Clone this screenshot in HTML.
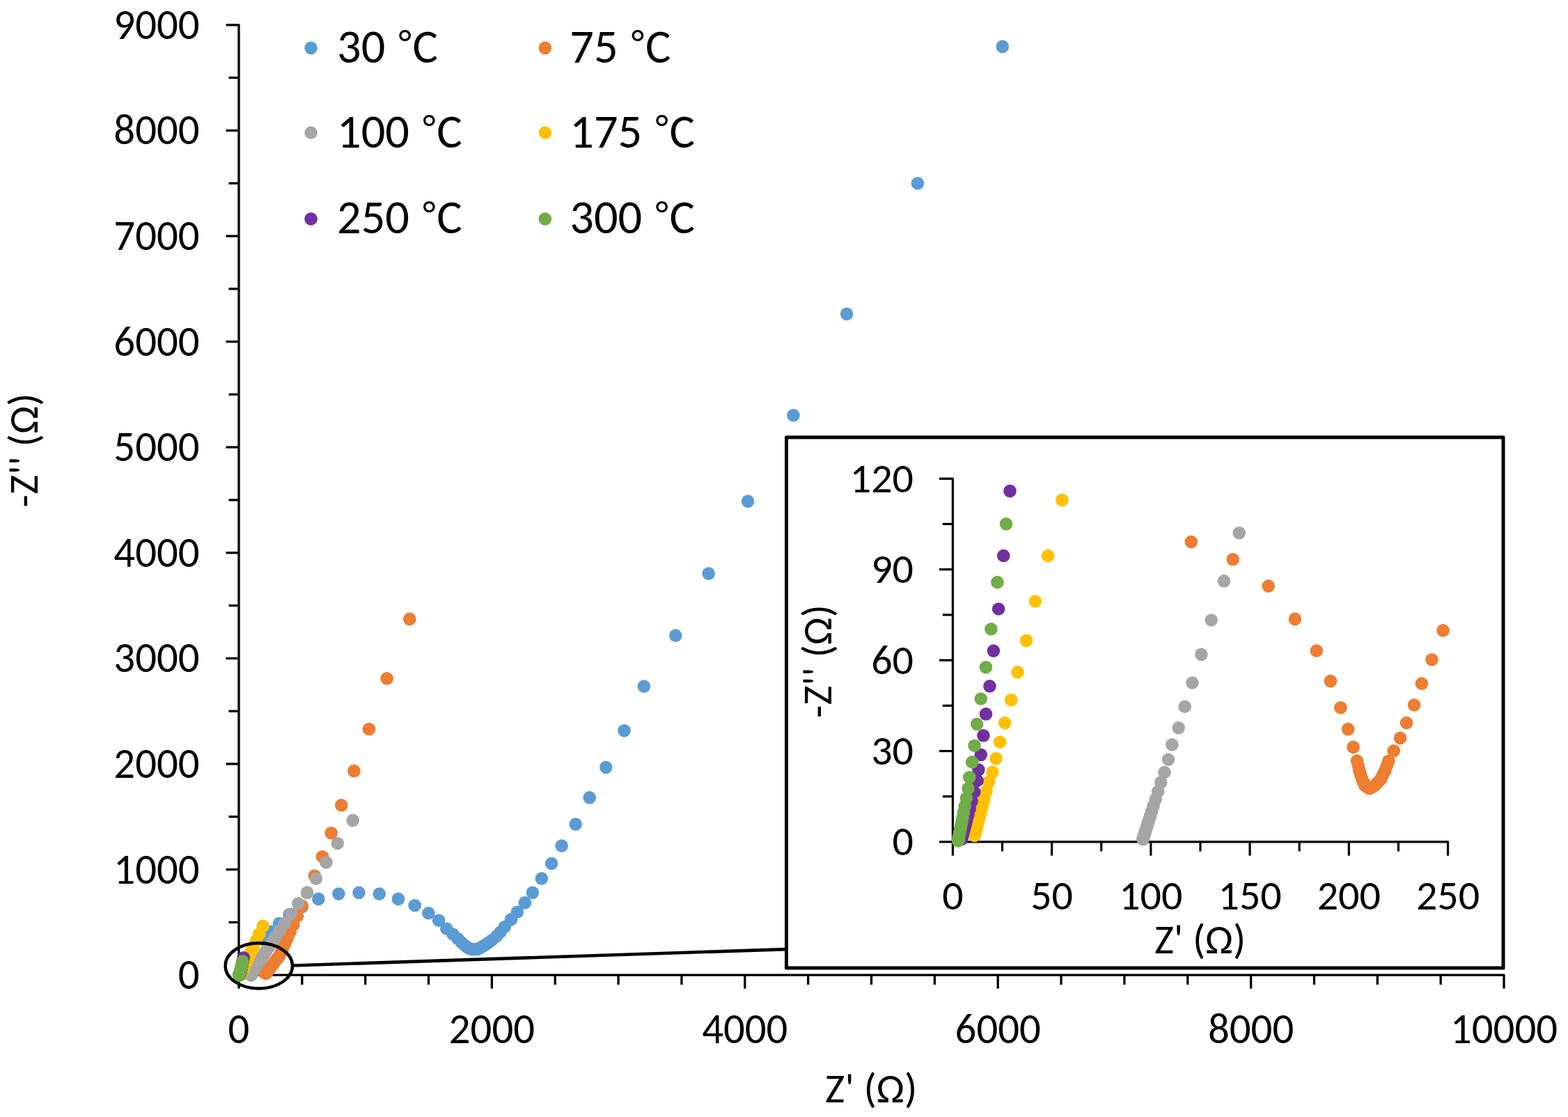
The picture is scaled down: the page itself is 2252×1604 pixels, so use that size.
<!DOCTYPE html>
<html><head><meta charset="utf-8"><title>Nyquist plot</title>
<style>html,body{margin:0;padding:0;background:#fff;overflow:hidden}svg{display:block}</style>
</head><body>
<svg width="2252" height="1604" viewBox="0 0 2252 1604">
<rect width="2252" height="1604" fill="#fff"></rect>
<g stroke="#000" stroke-width="3.3" stroke-linecap="butt" stroke-linejoin="round" fill="none"><path d="M324.6,35.8 H343.0 V1400.2 H2160 V1419.6"></path><line x1="328.5" y1="1324.40" x2="343.0" y2="1324.40"></line><line x1="324.6" y1="1248.60" x2="343.0" y2="1248.60"></line><line x1="328.5" y1="1172.80" x2="343.0" y2="1172.80"></line><line x1="324.6" y1="1097.00" x2="343.0" y2="1097.00"></line><line x1="328.5" y1="1021.20" x2="343.0" y2="1021.20"></line><line x1="324.6" y1="945.40" x2="343.0" y2="945.40"></line><line x1="328.5" y1="869.60" x2="343.0" y2="869.60"></line><line x1="324.6" y1="793.80" x2="343.0" y2="793.80"></line><line x1="328.5" y1="718.00" x2="343.0" y2="718.00"></line><line x1="324.6" y1="642.20" x2="343.0" y2="642.20"></line><line x1="328.5" y1="566.40" x2="343.0" y2="566.40"></line><line x1="324.6" y1="490.60" x2="343.0" y2="490.60"></line><line x1="328.5" y1="414.80" x2="343.0" y2="414.80"></line><line x1="324.6" y1="339.00" x2="343.0" y2="339.00"></line><line x1="328.5" y1="263.20" x2="343.0" y2="263.20"></line><line x1="324.6" y1="187.40" x2="343.0" y2="187.40"></line><line x1="328.5" y1="111.60" x2="343.0" y2="111.60"></line><line x1="343.00" y1="1400.2" x2="343.00" y2="1419.6"></line><line x1="433.85" y1="1400.2" x2="433.85" y2="1414.0"></line><line x1="524.70" y1="1400.2" x2="524.70" y2="1414.0"></line><line x1="615.55" y1="1400.2" x2="615.55" y2="1414.0"></line><line x1="706.40" y1="1400.2" x2="706.40" y2="1419.6"></line><line x1="797.25" y1="1400.2" x2="797.25" y2="1414.0"></line><line x1="888.10" y1="1400.2" x2="888.10" y2="1414.0"></line><line x1="978.95" y1="1400.2" x2="978.95" y2="1414.0"></line><line x1="1069.80" y1="1400.2" x2="1069.80" y2="1419.6"></line><line x1="1160.65" y1="1400.2" x2="1160.65" y2="1414.0"></line><line x1="1251.50" y1="1400.2" x2="1251.50" y2="1414.0"></line><line x1="1342.35" y1="1400.2" x2="1342.35" y2="1414.0"></line><line x1="1433.20" y1="1400.2" x2="1433.20" y2="1419.6"></line><line x1="1524.05" y1="1400.2" x2="1524.05" y2="1414.0"></line><line x1="1614.90" y1="1400.2" x2="1614.90" y2="1414.0"></line><line x1="1705.75" y1="1400.2" x2="1705.75" y2="1414.0"></line><line x1="1796.60" y1="1400.2" x2="1796.60" y2="1419.6"></line><line x1="1887.45" y1="1400.2" x2="1887.45" y2="1414.0"></line><line x1="1978.30" y1="1400.2" x2="1978.30" y2="1414.0"></line><line x1="2069.15" y1="1400.2" x2="2069.15" y2="1414.0"></line></g>
<g font-family="Carlito, 'Liberation Sans', Arial, sans-serif" font-size="60.8" fill="#000"><text x="286.6" y="1420.1" text-anchor="end" textLength="30.83" lengthAdjust="spacingAndGlyphs">0</text><text x="286.6" y="1268.5" text-anchor="end" textLength="123.27" lengthAdjust="spacingAndGlyphs">1000</text><text x="286.6" y="1116.9" text-anchor="end" textLength="123.27" lengthAdjust="spacingAndGlyphs">2000</text><text x="286.6" y="965.3" text-anchor="end" textLength="123.27" lengthAdjust="spacingAndGlyphs">3000</text><text x="286.6" y="813.7" text-anchor="end" textLength="123.27" lengthAdjust="spacingAndGlyphs">4000</text><text x="286.6" y="662.1" text-anchor="end" textLength="123.27" lengthAdjust="spacingAndGlyphs">5000</text><text x="286.6" y="510.5" text-anchor="end" textLength="123.27" lengthAdjust="spacingAndGlyphs">6000</text><text x="286.6" y="358.9" text-anchor="end" textLength="123.27" lengthAdjust="spacingAndGlyphs">7000</text><text x="286.6" y="207.3" text-anchor="end" textLength="123.27" lengthAdjust="spacingAndGlyphs">8000</text><text x="286.6" y="55.7" text-anchor="end" textLength="123.27" lengthAdjust="spacingAndGlyphs">9000</text><text x="343.0" y="1498.4" text-anchor="middle" textLength="30.83" lengthAdjust="spacingAndGlyphs">0</text><text x="706.4" y="1498.4" text-anchor="middle" textLength="123.27" lengthAdjust="spacingAndGlyphs">2000</text><text x="1069.8" y="1498.4" text-anchor="middle" textLength="123.27" lengthAdjust="spacingAndGlyphs">4000</text><text x="1433.2" y="1498.4" text-anchor="middle" textLength="123.27" lengthAdjust="spacingAndGlyphs">6000</text><text x="1796.6" y="1498.4" text-anchor="middle" textLength="123.27" lengthAdjust="spacingAndGlyphs">8000</text><text x="2160.0" y="1498.4" text-anchor="middle" textLength="154.08" lengthAdjust="spacingAndGlyphs">10000</text></g>
<text font-family="Carlito, 'Liberation Sans', Arial, sans-serif" font-size="60.5" x="1251.2" y="1583.4" text-anchor="middle" textLength="132.23" lengthAdjust="spacingAndGlyphs">Z' (Ω)</text>
<text font-family="Carlito, 'Liberation Sans', Arial, sans-serif" font-size="60.5" transform="translate(54.3,646.6) rotate(-90)" text-anchor="middle" textLength="164.11" lengthAdjust="spacingAndGlyphs">-Z'' (Ω)</text>
<g fill="#5B9BD5"><circle cx="378.5" cy="1349.5" r="9.3"></circle><circle cx="389.5" cy="1337.5" r="9.3"></circle><circle cx="401.0" cy="1326.1" r="9.3"></circle><circle cx="415.6" cy="1313.2" r="9.3"></circle><circle cx="433.8" cy="1302.2" r="9.3"></circle><circle cx="457.4" cy="1290.9" r="9.3"></circle><circle cx="486.4" cy="1283.6" r="9.3"></circle><circle cx="515.5" cy="1281.8" r="9.3"></circle><circle cx="544.8" cy="1283.6" r="9.3"></circle><circle cx="572.0" cy="1290.9" r="9.3"></circle><circle cx="595.7" cy="1300.2" r="9.3"></circle><circle cx="615.4" cy="1311.3" r="9.3"></circle><circle cx="630.2" cy="1321.7" r="9.3"></circle><circle cx="641.3" cy="1333.7" r="9.3"></circle><circle cx="650.5" cy="1341.5" r="9.3"></circle><circle cx="657.5" cy="1348.0" r="9.3"></circle><circle cx="663.0" cy="1353.5" r="9.3"></circle><circle cx="667.5" cy="1357.5" r="9.3"></circle><circle cx="671.5" cy="1360.5" r="9.3"></circle><circle cx="675.0" cy="1362.5" r="9.3"></circle><circle cx="678.5" cy="1363.2" r="9.3"></circle><circle cx="682.0" cy="1363.3" r="9.3"></circle><circle cx="685.5" cy="1362.8" r="9.3"></circle><circle cx="689.0" cy="1361.5" r="9.3"></circle><circle cx="692.5" cy="1359.5" r="9.3"></circle><circle cx="696.5" cy="1357.0" r="9.3"></circle><circle cx="701.0" cy="1354.0" r="9.3"></circle><circle cx="706.5" cy="1350.0" r="9.3"></circle><circle cx="713.2" cy="1344.4" r="9.3"></circle><circle cx="718.5" cy="1338.5" r="9.3"></circle><circle cx="724.8" cy="1331.0" r="9.3"></circle><circle cx="734.1" cy="1320.4" r="9.3"></circle><circle cx="743.0" cy="1309.7" r="9.3"></circle><circle cx="753.9" cy="1296.4" r="9.3"></circle><circle cx="764.9" cy="1281.8" r="9.3"></circle><circle cx="777.8" cy="1261.6" r="9.3"></circle><circle cx="792.1" cy="1240.0" r="9.3"></circle><circle cx="806.6" cy="1214.6" r="9.3"></circle><circle cx="826.7" cy="1183.6" r="9.3"></circle><circle cx="846.7" cy="1145.4" r="9.3"></circle><circle cx="870.3" cy="1101.8" r="9.3"></circle><circle cx="896.6" cy="1049.2" r="9.3"></circle><circle cx="924.8" cy="985.6" r="9.3"></circle><circle cx="970.3" cy="912.6" r="9.3"></circle><circle cx="1017.7" cy="823.6" r="9.3"></circle><circle cx="1074.1" cy="719.8" r="9.3"></circle><circle cx="1139.4" cy="596.3" r="9.3"></circle><circle cx="1216.1" cy="450.8" r="9.3"></circle><circle cx="1317.9" cy="263.3" r="9.3"></circle><circle cx="1439.8" cy="66.9" r="9.3"></circle></g>
<g fill="#ED7D31"><circle cx="364.9" cy="1385.2" r="9.3"></circle><circle cx="368.7" cy="1386.1" r="9.3"></circle><circle cx="372.0" cy="1387.4" r="9.3"></circle><circle cx="374.4" cy="1389.0" r="9.3"></circle><circle cx="376.4" cy="1390.6" r="9.3"></circle><circle cx="377.7" cy="1392.2" r="9.3"></circle><circle cx="378.6" cy="1393.5" r="9.3"></circle><circle cx="379.3" cy="1394.6" r="9.3"></circle><circle cx="379.7" cy="1395.5" r="9.3"></circle><circle cx="380.1" cy="1396.1" r="9.3"></circle><circle cx="380.2" cy="1396.4" r="9.3"></circle><circle cx="380.3" cy="1396.6" r="9.3"></circle><circle cx="380.4" cy="1396.8" r="9.3"></circle><circle cx="380.5" cy="1397.0" r="9.3"></circle><circle cx="380.7" cy="1397.2" r="9.3"></circle><circle cx="380.8" cy="1397.4" r="9.3"></circle><circle cx="381.0" cy="1397.5" r="9.3"></circle><circle cx="381.2" cy="1397.5" r="9.3"></circle><circle cx="381.5" cy="1397.5" r="9.3"></circle><circle cx="381.7" cy="1397.4" r="9.3"></circle><circle cx="382.0" cy="1397.2" r="9.3"></circle><circle cx="382.3" cy="1397.1" r="9.3"></circle><circle cx="382.5" cy="1396.9" r="9.3"></circle><circle cx="382.7" cy="1396.6" r="9.3"></circle><circle cx="382.8" cy="1396.4" r="9.3"></circle><circle cx="383.0" cy="1396.1" r="9.3"></circle><circle cx="383.5" cy="1395.6" r="9.3"></circle><circle cx="384.0" cy="1395.0" r="9.3"></circle><circle cx="384.6" cy="1394.2" r="9.3"></circle><circle cx="385.3" cy="1393.3" r="9.3"></circle><circle cx="386.0" cy="1392.3" r="9.3"></circle><circle cx="386.9" cy="1391.1" r="9.3"></circle><circle cx="388.0" cy="1389.6" r="9.3"></circle><circle cx="389.4" cy="1387.8" r="9.3"></circle><circle cx="391.1" cy="1385.6" r="9.3"></circle><circle cx="393.0" cy="1383.1" r="9.3"></circle><circle cx="395.3" cy="1380.1" r="9.3"></circle><circle cx="398.0" cy="1376.6" r="9.3"></circle><circle cx="401.2" cy="1372.6" r="9.3"></circle><circle cx="403.5" cy="1367.8" r="9.3"></circle><circle cx="406.0" cy="1362.1" r="9.3"></circle><circle cx="409.0" cy="1355.5" r="9.3"></circle><circle cx="412.5" cy="1347.8" r="9.3"></circle><circle cx="416.6" cy="1338.7" r="9.3"></circle><circle cx="421.4" cy="1328.0" r="9.3"></circle><circle cx="427.0" cy="1315.5" r="9.3"></circle><circle cx="433.6" cy="1300.8" r="9.3"></circle><circle cx="441.0" cy="1281.8" r="9.3"></circle><circle cx="451.8" cy="1257.7" r="9.3"></circle><circle cx="463.0" cy="1230.2" r="9.3"></circle><circle cx="475.7" cy="1196.2" r="9.3"></circle><circle cx="490.3" cy="1156.3" r="9.3"></circle><circle cx="508.4" cy="1107.1" r="9.3"></circle><circle cx="530.0" cy="1047.0" r="9.3"></circle><circle cx="555.7" cy="974.3" r="9.3"></circle><circle cx="588.3" cy="888.9" r="9.3"></circle></g>
<g fill="#A5A5A5"><circle cx="506.7" cy="1178.1" r="9.3"></circle><circle cx="484.8" cy="1211.0" r="9.3"></circle><circle cx="468.5" cy="1238.4" r="9.3"></circle><circle cx="453.8" cy="1261.7" r="9.3"></circle><circle cx="441.0" cy="1281.8" r="9.3"></circle><circle cx="428.2" cy="1297.5" r="9.3"></circle><circle cx="418.1" cy="1312.5" r="9.3"></circle><circle cx="409.4" cy="1325.3" r="9.3"></circle><circle cx="402.0" cy="1336.2" r="9.3"></circle><circle cx="395.7" cy="1345.6" r="9.3"></circle><circle cx="390.4" cy="1353.5" r="9.3"></circle><circle cx="385.8" cy="1360.3" r="9.3"></circle><circle cx="381.8" cy="1366.2" r="9.3"></circle><circle cx="378.5" cy="1371.1" r="9.3"></circle><circle cx="375.6" cy="1375.4" r="9.3"></circle><circle cx="373.2" cy="1379.0" r="9.3"></circle><circle cx="371.1" cy="1382.1" r="9.3"></circle><circle cx="369.3" cy="1384.7" r="9.3"></circle><circle cx="367.9" cy="1387.1" r="9.3"></circle><circle cx="366.7" cy="1389.1" r="9.3"></circle><circle cx="365.8" cy="1390.8" r="9.3"></circle><circle cx="365.0" cy="1392.2" r="9.3"></circle><circle cx="364.3" cy="1393.4" r="9.3"></circle><circle cx="363.7" cy="1394.5" r="9.3"></circle><circle cx="363.1" cy="1395.3" r="9.3"></circle><circle cx="362.8" cy="1396.1" r="9.3"></circle><circle cx="362.4" cy="1396.7" r="9.3"></circle><circle cx="362.1" cy="1397.2" r="9.3"></circle><circle cx="361.8" cy="1397.7" r="9.3"></circle><circle cx="361.6" cy="1398.1" r="9.3"></circle><circle cx="361.4" cy="1398.4" r="9.3"></circle><circle cx="361.3" cy="1398.7" r="9.3"></circle><circle cx="361.1" cy="1398.9" r="9.3"></circle><circle cx="361.0" cy="1399.1" r="9.3"></circle><circle cx="360.9" cy="1399.3" r="9.3"></circle><circle cx="360.8" cy="1399.4" r="9.3"></circle><circle cx="360.8" cy="1399.5" r="9.3"></circle><circle cx="360.7" cy="1399.6" r="9.3"></circle><circle cx="360.6" cy="1399.7" r="9.3"></circle><circle cx="360.6" cy="1399.8" r="9.3"></circle><circle cx="360.6" cy="1399.9" r="9.3"></circle><circle cx="360.5" cy="1399.9" r="9.3"></circle><circle cx="360.5" cy="1400.0" r="9.3"></circle><circle cx="360.5" cy="1400.0" r="9.3"></circle><circle cx="360.5" cy="1400.0" r="9.3"></circle><circle cx="360.5" cy="1400.1" r="9.3"></circle><circle cx="360.4" cy="1400.1" r="9.3"></circle></g>
<g fill="#FFC000"><circle cx="377.6" cy="1329.8" r="9.3"></circle><circle cx="372.3" cy="1341.2" r="9.3"></circle><circle cx="367.9" cy="1350.8" r="9.3"></circle><circle cx="364.2" cy="1358.8" r="9.3"></circle><circle cx="361.1" cy="1365.5" r="9.3"></circle><circle cx="358.5" cy="1371.1" r="9.3"></circle><circle cx="356.4" cy="1375.8" r="9.3"></circle><circle cx="354.6" cy="1379.8" r="9.3"></circle><circle cx="353.0" cy="1383.1" r="9.3"></circle><circle cx="351.7" cy="1385.9" r="9.3"></circle><circle cx="350.6" cy="1388.2" r="9.3"></circle><circle cx="349.8" cy="1390.1" r="9.3"></circle><circle cx="348.9" cy="1391.7" r="9.3"></circle><circle cx="348.4" cy="1393.1" r="9.3"></circle><circle cx="347.8" cy="1394.2" r="9.3"></circle><circle cx="347.3" cy="1395.2" r="9.3"></circle><circle cx="347.0" cy="1396.0" r="9.3"></circle><circle cx="346.6" cy="1396.7" r="9.3"></circle><circle cx="346.3" cy="1397.2" r="9.3"></circle><circle cx="346.1" cy="1397.7" r="9.3"></circle><circle cx="345.9" cy="1398.1" r="9.3"></circle><circle cx="345.7" cy="1398.4" r="9.3"></circle><circle cx="345.6" cy="1398.7" r="9.3"></circle><circle cx="345.5" cy="1399.0" r="9.3"></circle><circle cx="345.4" cy="1399.2" r="9.3"></circle><circle cx="345.3" cy="1399.3" r="9.3"></circle><circle cx="345.2" cy="1399.5" r="9.3"></circle><circle cx="345.1" cy="1399.6" r="9.3"></circle><circle cx="345.1" cy="1399.7" r="9.3"></circle><circle cx="345.1" cy="1399.8" r="9.3"></circle><circle cx="345.0" cy="1399.8" r="9.3"></circle><circle cx="345.0" cy="1399.9" r="9.3"></circle></g>
<g fill="#7030A0"><circle cx="349.7" cy="1375.2" r="9.3"></circle><circle cx="348.9" cy="1379.3" r="9.3"></circle><circle cx="348.2" cy="1382.6" r="9.3"></circle><circle cx="347.7" cy="1385.9" r="9.3"></circle><circle cx="347.2" cy="1388.5" r="9.3"></circle><circle cx="346.7" cy="1390.6" r="9.3"></circle><circle cx="346.4" cy="1392.4" r="9.3"></circle><circle cx="346.0" cy="1393.8" r="9.3"></circle><circle cx="345.8" cy="1394.9" r="9.3"></circle><circle cx="345.6" cy="1395.8" r="9.3"></circle><circle cx="345.4" cy="1396.6" r="9.3"></circle><circle cx="345.2" cy="1397.1" r="9.3"></circle><circle cx="345.0" cy="1397.7" r="9.3"></circle><circle cx="344.7" cy="1398.2" r="9.3"></circle><circle cx="344.6" cy="1398.5" r="9.3"></circle><circle cx="344.4" cy="1398.8" r="9.3"></circle><circle cx="344.3" cy="1399.1" r="9.3"></circle><circle cx="344.2" cy="1399.3" r="9.3"></circle><circle cx="344.1" cy="1399.5" r="9.3"></circle><circle cx="344.0" cy="1399.6" r="9.3"></circle><circle cx="344.0" cy="1399.7" r="9.3"></circle><circle cx="343.9" cy="1399.8" r="9.3"></circle><circle cx="343.9" cy="1399.9" r="9.3"></circle><circle cx="343.9" cy="1399.9" r="9.3"></circle><circle cx="343.8" cy="1400.0" r="9.3"></circle><circle cx="343.8" cy="1400.0" r="9.3"></circle><circle cx="343.8" cy="1400.1" r="9.3"></circle><circle cx="343.8" cy="1400.1" r="9.3"></circle></g>
<g fill="#70AD47"><circle cx="348.5" cy="1380.6" r="9.3"></circle><circle cx="347.9" cy="1384.3" r="9.3"></circle><circle cx="347.1" cy="1387.2" r="9.3"></circle><circle cx="346.5" cy="1389.5" r="9.3"></circle><circle cx="346.0" cy="1391.5" r="9.3"></circle><circle cx="345.6" cy="1393.0" r="9.3"></circle><circle cx="345.2" cy="1394.3" r="9.3"></circle><circle cx="345.0" cy="1395.4" r="9.3"></circle><circle cx="344.8" cy="1396.2" r="9.3"></circle><circle cx="344.5" cy="1397.0" r="9.3"></circle><circle cx="344.4" cy="1397.5" r="9.3"></circle><circle cx="344.2" cy="1398.0" r="9.3"></circle><circle cx="344.1" cy="1398.4" r="9.3"></circle><circle cx="344.0" cy="1398.7" r="9.3"></circle><circle cx="343.9" cy="1399.0" r="9.3"></circle><circle cx="343.8" cy="1399.2" r="9.3"></circle><circle cx="343.8" cy="1399.4" r="9.3"></circle><circle cx="343.7" cy="1399.5" r="9.3"></circle><circle cx="343.7" cy="1399.7" r="9.3"></circle><circle cx="343.6" cy="1399.8" r="9.3"></circle><circle cx="343.6" cy="1399.8" r="9.3"></circle><circle cx="343.6" cy="1399.9" r="9.3"></circle><circle cx="343.6" cy="1400.0" r="9.3"></circle><circle cx="343.5" cy="1400.0" r="9.3"></circle><circle cx="343.5" cy="1400.0" r="9.3"></circle><circle cx="343.5" cy="1400.1" r="9.3"></circle><circle cx="343.5" cy="1400.1" r="9.3"></circle><circle cx="343.5" cy="1400.1" r="9.3"></circle><circle cx="343.5" cy="1400.1" r="9.3"></circle><circle cx="343.5" cy="1400.1" r="9.3"></circle><circle cx="343.5" cy="1400.1" r="9.3"></circle></g>
<circle cx="446.6" cy="68.8" r="9.3" fill="#5B9BD5"></circle><text y="89.8" font-family="Carlito, 'Liberation Sans', Arial, sans-serif" font-size="68.4"><tspan x="484.00" textLength="69.33" lengthAdjust="spacingAndGlyphs">30</tspan> <tspan x="572.50" y="79.1" font-size="54" textLength="18.31" lengthAdjust="spacingAndGlyphs">°</tspan><tspan x="592.61" y="89.8" textLength="36.47" lengthAdjust="spacingAndGlyphs">C</tspan></text><circle cx="782.9" cy="68.8" r="9.3" fill="#ED7D31"></circle><text y="89.8" font-family="Carlito, 'Liberation Sans', Arial, sans-serif" font-size="68.4"><tspan x="818.30" textLength="69.33" lengthAdjust="spacingAndGlyphs">75</tspan> <tspan x="906.80" y="79.1" font-size="54" textLength="18.31" lengthAdjust="spacingAndGlyphs">°</tspan><tspan x="926.91" y="89.8" textLength="36.47" lengthAdjust="spacingAndGlyphs">C</tspan></text><circle cx="446.6" cy="190.5" r="9.3" fill="#A5A5A5"></circle><text y="211.5" font-family="Carlito, 'Liberation Sans', Arial, sans-serif" font-size="68.4"><tspan x="484.00" textLength="104.00" lengthAdjust="spacingAndGlyphs">100</tspan> <tspan x="607.16" y="200.8" font-size="54" textLength="18.31" lengthAdjust="spacingAndGlyphs">°</tspan><tspan x="627.27" y="211.5" textLength="36.47" lengthAdjust="spacingAndGlyphs">C</tspan></text><circle cx="782.9" cy="190.5" r="9.3" fill="#FFC000"></circle><text y="211.5" font-family="Carlito, 'Liberation Sans', Arial, sans-serif" font-size="68.4"><tspan x="818.30" textLength="104.00" lengthAdjust="spacingAndGlyphs">175</tspan> <tspan x="941.46" y="200.8" font-size="54" textLength="18.31" lengthAdjust="spacingAndGlyphs">°</tspan><tspan x="961.57" y="211.5" textLength="36.47" lengthAdjust="spacingAndGlyphs">C</tspan></text><circle cx="446.6" cy="314.4" r="9.3" fill="#7030A0"></circle><text y="335.4" font-family="Carlito, 'Liberation Sans', Arial, sans-serif" font-size="68.4"><tspan x="484.00" textLength="104.00" lengthAdjust="spacingAndGlyphs">250</tspan> <tspan x="607.16" y="324.7" font-size="54" textLength="18.31" lengthAdjust="spacingAndGlyphs">°</tspan><tspan x="627.27" y="335.4" textLength="36.47" lengthAdjust="spacingAndGlyphs">C</tspan></text><circle cx="782.9" cy="314.4" r="9.3" fill="#70AD47"></circle><text y="335.4" font-family="Carlito, 'Liberation Sans', Arial, sans-serif" font-size="68.4"><tspan x="818.30" textLength="104.00" lengthAdjust="spacingAndGlyphs">300</tspan> <tspan x="941.46" y="324.7" font-size="54" textLength="18.31" lengthAdjust="spacingAndGlyphs">°</tspan><tspan x="961.57" y="335.4" textLength="36.47" lengthAdjust="spacingAndGlyphs">C</tspan></text>
<line x1="421" y1="1386.5" x2="1129" y2="1363.1" stroke="#000" stroke-width="4.6"></line>
<ellipse cx="371.8" cy="1386.9" rx="48.2" ry="32.6" fill="none" stroke="#000" stroke-width="4.4"></ellipse>
<rect x="1129.5" y="628" width="1029.5" height="762" fill="#fff" stroke="#000" stroke-width="5" stroke-linejoin="round"></rect>
<g stroke="#000" stroke-width="3.2" stroke-linecap="butt" stroke-linejoin="round" fill="none"><path d="M1349.0,687.3 H1368.4 V1208.9 H2079.5 V1228.7"></path><line x1="1349.0" y1="1208.90" x2="1368.4" y2="1208.90"></line><line x1="1353.8" y1="1143.70" x2="1368.4" y2="1143.70"></line><line x1="1349.0" y1="1078.50" x2="1368.4" y2="1078.50"></line><line x1="1353.8" y1="1013.30" x2="1368.4" y2="1013.30"></line><line x1="1349.0" y1="948.10" x2="1368.4" y2="948.10"></line><line x1="1353.8" y1="882.90" x2="1368.4" y2="882.90"></line><line x1="1349.0" y1="817.70" x2="1368.4" y2="817.70"></line><line x1="1353.8" y1="752.50" x2="1368.4" y2="752.50"></line><line x1="1368.40" y1="1208.9" x2="1368.40" y2="1228.7"></line><line x1="1439.51" y1="1208.9" x2="1439.51" y2="1222.5"></line><line x1="1510.62" y1="1208.9" x2="1510.62" y2="1228.7"></line><line x1="1581.73" y1="1208.9" x2="1581.73" y2="1222.5"></line><line x1="1652.84" y1="1208.9" x2="1652.84" y2="1228.7"></line><line x1="1723.95" y1="1208.9" x2="1723.95" y2="1222.5"></line><line x1="1795.06" y1="1208.9" x2="1795.06" y2="1228.7"></line><line x1="1866.17" y1="1208.9" x2="1866.17" y2="1222.5"></line><line x1="1937.28" y1="1208.9" x2="1937.28" y2="1228.7"></line><line x1="2008.39" y1="1208.9" x2="2008.39" y2="1222.5"></line></g>
<g font-family="Carlito, 'Liberation Sans', Arial, sans-serif" font-size="60" fill="#000"><text x="1312" y="1228.4" text-anchor="end" textLength="30.42" lengthAdjust="spacingAndGlyphs">0</text><text x="1312" y="1098.0" text-anchor="end" textLength="60.83" lengthAdjust="spacingAndGlyphs">30</text><text x="1312" y="967.6" text-anchor="end" textLength="60.83" lengthAdjust="spacingAndGlyphs">60</text><text x="1312" y="837.2" text-anchor="end" textLength="60.83" lengthAdjust="spacingAndGlyphs">90</text><text x="1312" y="706.8" text-anchor="end" textLength="91.23" lengthAdjust="spacingAndGlyphs">120</text><text x="1368.4" y="1306" text-anchor="middle" textLength="30.42" lengthAdjust="spacingAndGlyphs">0</text><text x="1510.6" y="1306" text-anchor="middle" textLength="60.83" lengthAdjust="spacingAndGlyphs">50</text><text x="1652.8" y="1306" text-anchor="middle" textLength="91.23" lengthAdjust="spacingAndGlyphs">100</text><text x="1795.1" y="1306" text-anchor="middle" textLength="91.23" lengthAdjust="spacingAndGlyphs">150</text><text x="1937.3" y="1306" text-anchor="middle" textLength="91.23" lengthAdjust="spacingAndGlyphs">200</text><text x="2079.5" y="1306" text-anchor="middle" textLength="91.23" lengthAdjust="spacingAndGlyphs">250</text></g>
<text font-family="Carlito, 'Liberation Sans', Arial, sans-serif" font-size="60" x="1723.6" y="1369.2" text-anchor="middle" textLength="131.14" lengthAdjust="spacingAndGlyphs">Z' (Ω)</text>
<text font-family="Carlito, 'Liberation Sans', Arial, sans-serif" font-size="60" transform="translate(1193.8,949.5) rotate(-90)" text-anchor="middle" textLength="162.75" lengthAdjust="spacingAndGlyphs">-Z'' (Ω)</text>
<g fill="#ED7D31"><circle cx="1710.8" cy="778.1" r="9.3"></circle><circle cx="1770.8" cy="803.3" r="9.3"></circle><circle cx="1821.7" cy="841.6" r="9.3"></circle><circle cx="1859.9" cy="888.9" r="9.3"></circle><circle cx="1890.8" cy="934.5" r="9.3"></circle><circle cx="1910.9" cy="978.1" r="9.3"></circle><circle cx="1925.4" cy="1016.2" r="9.3"></circle><circle cx="1936.2" cy="1047.1" r="9.3"></circle><circle cx="1943.6" cy="1072.9" r="9.3"></circle><circle cx="1949.0" cy="1092.5" r="9.3"></circle><circle cx="1950.8" cy="1099.8" r="9.3"></circle><circle cx="1952.5" cy="1107.0" r="9.3"></circle><circle cx="1954.2" cy="1112.7" r="9.3"></circle><circle cx="1956.0" cy="1118.3" r="9.3"></circle><circle cx="1958.2" cy="1123.2" r="9.3"></circle><circle cx="1960.3" cy="1128.0" r="9.3"></circle><circle cx="1963.5" cy="1130.2" r="9.3"></circle><circle cx="1966.8" cy="1132.3" r="9.3"></circle><circle cx="1970.5" cy="1130.2" r="9.3"></circle><circle cx="1974.3" cy="1128.0" r="9.3"></circle><circle cx="1978.7" cy="1123.5" r="9.3"></circle><circle cx="1983.0" cy="1119.0" r="9.3"></circle><circle cx="1986.0" cy="1113.0" r="9.3"></circle><circle cx="1989.1" cy="1107.0" r="9.3"></circle><circle cx="1991.8" cy="1099.8" r="9.3"></circle><circle cx="1994.4" cy="1092.7" r="9.3"></circle><circle cx="2001.7" cy="1078.2" r="9.3"></circle><circle cx="2011.0" cy="1059.8" r="9.3"></circle><circle cx="2020.0" cy="1038.0" r="9.3"></circle><circle cx="2031.0" cy="1012.4" r="9.3"></circle><circle cx="2041.9" cy="981.6" r="9.3"></circle><circle cx="2056.4" cy="947.2" r="9.3"></circle><circle cx="2072.6" cy="905.3" r="9.3"></circle></g>
<g fill="#A5A5A5"><circle cx="1779.8" cy="765.3" r="9.3"></circle><circle cx="1757.9" cy="834.4" r="9.3"></circle><circle cx="1739.7" cy="890.5" r="9.3"></circle><circle cx="1725.4" cy="939.8" r="9.3"></circle><circle cx="1712.4" cy="980.5" r="9.3"></circle><circle cx="1701.6" cy="1014.7" r="9.3"></circle><circle cx="1692.6" cy="1045.1" r="9.3"></circle><circle cx="1683.3" cy="1069.3" r="9.3"></circle><circle cx="1678.1" cy="1090.7" r="9.3"></circle><circle cx="1672.5" cy="1109.0" r="9.3"></circle><circle cx="1667.2" cy="1123.6" r="9.3"></circle><circle cx="1663.1" cy="1136.7" r="9.3"></circle><circle cx="1659.6" cy="1147.7" r="9.3"></circle><circle cx="1656.6" cy="1157.1" r="9.3"></circle><circle cx="1654.1" cy="1165.0" r="9.3"></circle><circle cx="1652.0" cy="1171.7" r="9.3"></circle><circle cx="1650.2" cy="1177.4" r="9.3"></circle><circle cx="1648.7" cy="1182.2" r="9.3"></circle><circle cx="1647.4" cy="1186.3" r="9.3"></circle><circle cx="1646.3" cy="1189.8" r="9.3"></circle><circle cx="1645.4" cy="1192.7" r="9.3"></circle><circle cx="1644.6" cy="1195.2" r="9.3"></circle><circle cx="1643.9" cy="1197.3" r="9.3"></circle><circle cx="1643.3" cy="1199.1" r="9.3"></circle><circle cx="1642.9" cy="1200.6" r="9.3"></circle><circle cx="1642.5" cy="1201.8" r="9.3"></circle><circle cx="1642.1" cy="1202.9" r="9.3"></circle><circle cx="1641.8" cy="1203.8" r="9.3"></circle><circle cx="1641.6" cy="1204.6" r="9.3"></circle><circle cx="1641.4" cy="1205.2" r="9.3"></circle></g>
<g fill="#FFC000"><circle cx="1525.3" cy="718.1" r="9.3"></circle><circle cx="1505.1" cy="798.0" r="9.3"></circle><circle cx="1486.9" cy="863.5" r="9.3"></circle><circle cx="1474.1" cy="919.8" r="9.3"></circle><circle cx="1461.5" cy="965.3" r="9.3"></circle><circle cx="1452.3" cy="1005.1" r="9.3"></circle><circle cx="1443.3" cy="1038.0" r="9.3"></circle><circle cx="1436.1" cy="1065.5" r="9.3"></circle><circle cx="1430.5" cy="1089.2" r="9.3"></circle><circle cx="1425.4" cy="1108.8" r="9.3"></circle><circle cx="1420.2" cy="1122.8" r="9.3"></circle><circle cx="1416.5" cy="1136.7" r="9.3"></circle><circle cx="1413.4" cy="1148.4" r="9.3"></circle><circle cx="1410.8" cy="1158.2" r="9.3"></circle><circle cx="1408.6" cy="1166.4" r="9.3"></circle><circle cx="1406.8" cy="1173.3" r="9.3"></circle><circle cx="1405.3" cy="1179.1" r="9.3"></circle><circle cx="1404.0" cy="1183.9" r="9.3"></circle><circle cx="1402.9" cy="1188.0" r="9.3"></circle><circle cx="1402.0" cy="1191.4" r="9.3"></circle><circle cx="1401.2" cy="1194.2" r="9.3"></circle><circle cx="1400.6" cy="1196.6" r="9.3"></circle><circle cx="1400.1" cy="1198.6" r="9.3"></circle><circle cx="1399.7" cy="1200.0" r="9.3"></circle></g>
<g fill="#7030A0"><circle cx="1450.5" cy="705.1" r="9.3"></circle><circle cx="1441.3" cy="798.0" r="9.3"></circle><circle cx="1434.1" cy="874.5" r="9.3"></circle><circle cx="1426.9" cy="934.6" r="9.3"></circle><circle cx="1421.5" cy="985.3" r="9.3"></circle><circle cx="1416.0" cy="1025.4" r="9.3"></circle><circle cx="1412.4" cy="1056.3" r="9.3"></circle><circle cx="1408.8" cy="1083.8" r="9.3"></circle><circle cx="1405.4" cy="1105.3" r="9.3"></circle><circle cx="1403.6" cy="1121.0" r="9.3"></circle><circle cx="1399.2" cy="1137.3" r="9.3"></circle><circle cx="1395.7" cy="1150.5" r="9.3"></circle><circle cx="1392.8" cy="1161.3" r="9.3"></circle><circle cx="1390.4" cy="1170.1" r="9.3"></circle><circle cx="1388.5" cy="1177.3" r="9.3"></circle><circle cx="1386.9" cy="1183.1" r="9.3"></circle><circle cx="1385.6" cy="1187.9" r="9.3"></circle><circle cx="1384.6" cy="1191.8" r="9.3"></circle><circle cx="1383.7" cy="1195.0" r="9.3"></circle><circle cx="1383.0" cy="1197.5" r="9.3"></circle><circle cx="1382.4" cy="1199.6" r="9.3"></circle><circle cx="1382.0" cy="1201.4" r="9.3"></circle><circle cx="1381.6" cy="1202.7" r="9.3"></circle><circle cx="1381.3" cy="1203.9" r="9.3"></circle><circle cx="1381.1" cy="1204.8" r="9.3"></circle><circle cx="1381.0" cy="1205.0" r="9.3"></circle></g>
<g fill="#70AD47"><circle cx="1445.0" cy="752.4" r="9.3"></circle><circle cx="1432.4" cy="836.1" r="9.3"></circle><circle cx="1423.4" cy="903.3" r="9.3"></circle><circle cx="1416.0" cy="958.2" r="9.3"></circle><circle cx="1408.7" cy="1003.5" r="9.3"></circle><circle cx="1403.2" cy="1039.8" r="9.3"></circle><circle cx="1399.5" cy="1070.7" r="9.3"></circle><circle cx="1396.2" cy="1094.4" r="9.3"></circle><circle cx="1392.3" cy="1116.2" r="9.3"></circle><circle cx="1390.5" cy="1132.4" r="9.3"></circle><circle cx="1387.9" cy="1146.2" r="9.3"></circle><circle cx="1385.7" cy="1157.5" r="9.3"></circle><circle cx="1383.9" cy="1166.7" r="9.3"></circle><circle cx="1382.5" cy="1174.3" r="9.3"></circle><circle cx="1381.3" cy="1180.5" r="9.3"></circle><circle cx="1380.3" cy="1185.6" r="9.3"></circle><circle cx="1379.5" cy="1189.8" r="9.3"></circle><circle cx="1378.8" cy="1193.3" r="9.3"></circle><circle cx="1378.3" cy="1196.1" r="9.3"></circle><circle cx="1377.8" cy="1198.4" r="9.3"></circle><circle cx="1377.5" cy="1200.3" r="9.3"></circle><circle cx="1377.2" cy="1201.8" r="9.3"></circle><circle cx="1376.9" cy="1203.1" r="9.3"></circle><circle cx="1376.7" cy="1204.1" r="9.3"></circle><circle cx="1376.6" cy="1205.0" r="9.3"></circle><circle cx="1376.4" cy="1205.7" r="9.3"></circle><circle cx="1376.3" cy="1206.3" r="9.3"></circle><circle cx="1376.2" cy="1206.8" r="9.3"></circle><circle cx="1376.2" cy="1207.1" r="9.3"></circle><circle cx="1376.1" cy="1207.4" r="9.3"></circle></g>
</svg>

</body></html>
